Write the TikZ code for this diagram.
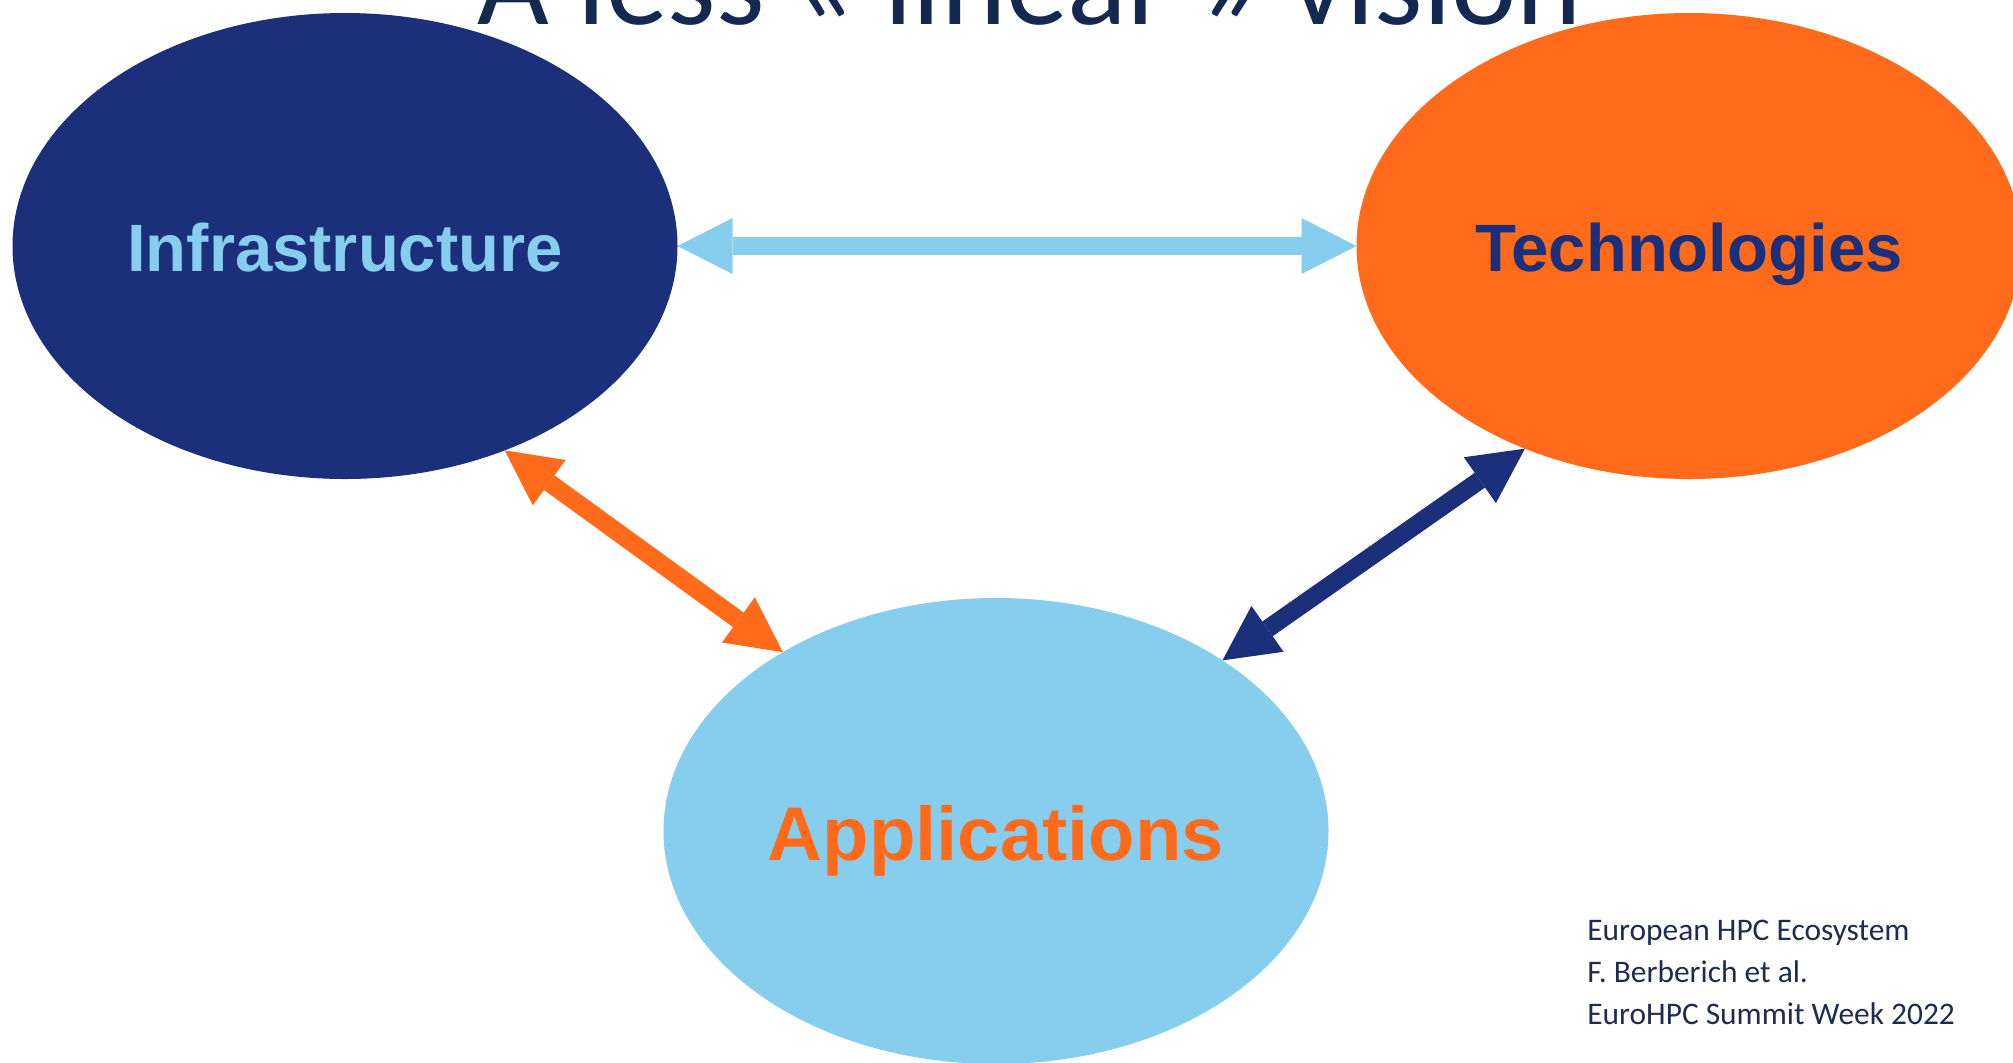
\documentclass[tikz,border=0pt]{standalone}
\usepackage{fontspec}
\setmainfont{Liberation Sans}
\newfontfamily\calib{Carlito}
\usetikzlibrary{shapes.geometric,arrows.meta}
\definecolor{navyc}{HTML}{1B2F7A}
\definecolor{orangec}{HTML}{FF6B1A}
\definecolor{skyc}{HTML}{87CEEE}
\definecolor{titlec}{HTML}{142850}
\definecolor{notec}{HTML}{1E2D4B}
\begin{document}
\begin{tikzpicture}[x=0.5pt,y=-0.5pt,
  blob/.style={ellipse, draw=none, minimum width=332.5pt, minimum height=233pt,
    inner sep=0pt, outer sep=0pt, text depth=0pt,
    font=\bfseries\fontsize{33.5pt}{40pt}\selectfont},
  link/.style={line width=9pt, {Triangle[length=27.5pt,width=28pt,line width=0pt]}-{Triangle[length=27.5pt,width=28pt,line width=0pt]}}]
\useasboundingbox (0,0) rectangle (2013,1062);
\clip (0,0) rectangle (2013,1062);
\fill[white] (0,0) rectangle (2013,1062);

\node[anchor=base, inner sep=0pt, text=titlec,
  font=\calib\fontsize{62pt}{70pt}\selectfont] (title) at (1030,24) {A less « linear » vision};

\node[blob, fill=navyc, text=skyc, text height=25pt] (inf) at (345,246) {Infrastructure};
\node[blob, fill=orangec, text=navyc, text height=25.7pt] (tech) at (1689,246) {Technologies};
\node[blob, fill=skyc, text=orangec, text height=29.7pt,
  font=\bfseries\fontsize{38pt}{44pt}\selectfont] (app) at (996,831) {Applications};

\draw[link, skyc] (inf.0) -- (tech.180);
\draw[link, orangec] (inf.-52.9) -- (app.140.6);
\draw[link, navyc] (app.37.5) -- (tech.-129.9);

\node[anchor=north west, align=left, inner sep=0pt, text=notec,
  font=\calib\fontsize{15.7pt}{21pt}\selectfont] (note) at (1587,920)
  {European HPC Ecosystem\\F. Berberich et al.\\EuroHPC Summit Week 2022};
\end{tikzpicture}
\end{document}
